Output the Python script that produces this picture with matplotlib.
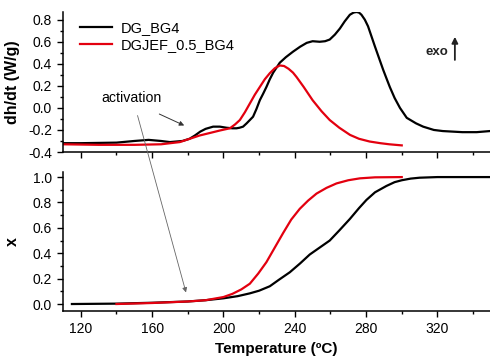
import matplotlib
matplotlib.use("Agg")
import matplotlib.pyplot as plt
from matplotlib.ticker import MultipleLocator

plt.rcParams['font.family'] = ['Liberation Sans', 'DejaVu Sans']

# ---- data ----
t_top_dg = [110, 120, 140, 150, 158, 165, 170, 177, 181, 184, 187, 190, 194.2, 198, 201.7,
            205, 207.3, 209, 211, 213, 216.6, 218.5, 220.4, 222.3, 224.1, 226, 227.9, 231.6,
            235, 239, 243, 246.7, 250, 254, 257, 259.6, 262.5, 265.3, 268, 270.9, 273, 274.6,
            276, 277.4, 279.3, 281.1, 283, 284.9, 287.3, 289.6, 291.5, 293.3, 296, 299, 302.8,
            308, 312, 318, 323, 334, 342, 349.5]
v_top_dg = [-0.32, -0.32, -0.315, -0.30, -0.29, -0.30, -0.31, -0.30, -0.28, -0.25, -0.215,
            -0.19, -0.17, -0.17, -0.18, -0.185, -0.185, -0.18, -0.17, -0.14, -0.08, -0.01, 0.07,
            0.13, 0.19, 0.26, 0.32, 0.41, 0.46, 0.51, 0.555, 0.59, 0.605, 0.60, 0.605, 0.62,
            0.665, 0.72, 0.785, 0.845, 0.865, 0.87, 0.865, 0.845, 0.80, 0.74, 0.65, 0.56, 0.45,
            0.345, 0.265, 0.19, 0.09, 0.0, -0.09, -0.14, -0.17, -0.20, -0.21, -0.22, -0.22, -0.21]

t_top_jef = [110, 130, 150, 165, 175.5, 186.7, 193, 198, 203.6, 206.5, 209.2, 212, 214.8,
             217.6, 220.4, 223.2, 226, 228.8, 231.6, 234, 236.5, 239, 241, 245, 250, 255,
             259.6, 265, 271, 276, 282, 288, 293, 300]
v_top_jef = [-0.33, -0.335, -0.335, -0.33, -0.31, -0.25, -0.225, -0.205, -0.185, -0.15, -0.11,
             -0.04, 0.04, 0.12, 0.19, 0.26, 0.315, 0.36, 0.385, 0.38, 0.355, 0.32, 0.28, 0.19,
             0.07, -0.03, -0.11, -0.18, -0.245, -0.28, -0.305, -0.32, -0.33, -0.34]

t_bot_dg = [115, 140, 160, 180, 190, 200, 208, 214.8, 220, 226, 231, 237.2, 243, 248.4,
            254, 259.6, 265, 270.9, 276, 280.2, 285, 291.4, 296, 300, 305, 310, 320, 335, 349.5]
x_bot_dg = [0.0, 0.003, 0.01, 0.02, 0.03, 0.045, 0.062, 0.084, 0.105, 0.14, 0.19, 0.25, 0.32,
            0.39, 0.445, 0.50, 0.58, 0.67, 0.755, 0.82, 0.88, 0.93, 0.96, 0.975, 0.988, 0.995,
            1.0, 1.0, 1.0]

t_bot_jef = [140, 160, 180, 190, 200, 205, 210, 214.8, 219.5, 224.1, 229, 233.5, 238, 242.8,
             247.5, 252.2, 257.8, 263.4, 270, 276.5, 285, 300]
x_bot_jef = [0.0, 0.008, 0.02, 0.03, 0.055, 0.08, 0.115, 0.16, 0.24, 0.33, 0.45, 0.56, 0.665,
             0.75, 0.815, 0.87, 0.915, 0.95, 0.975, 0.99, 0.998, 1.0]

labels = ['DG_BG4', 'DGJEF_0.5_BG4']
xticks = [120, 160, 200, 240, 280, 320]

# ---- figure ----
fig = plt.figure(figsize=(4.9, 3.61), dpi=100)
ax1 = fig.add_axes([63/490, 1-152/361, 1-63/490, 140/361])
ax2 = fig.add_axes([63/490, 1-311/361, 1-63/490, 139/361])

black = '#000000'
red = '#e3000f'
lw = 1.6

ax1.plot(t_top_dg, v_top_dg, color=black, lw=lw, label=labels[0])
ax1.plot(t_top_jef, v_top_jef, color=red, lw=lw, label=labels[1])
ax2.plot(t_bot_dg, x_bot_dg, color=black, lw=lw)
ax2.plot(t_bot_jef, x_bot_jef, color=red, lw=lw)

for ax in (ax1, ax2):
    ax.set_xlim(110, 349.5)
    ax.set_xticks(xticks)
    ax.xaxis.set_minor_locator(MultipleLocator(20))
    ax.yaxis.set_minor_locator(MultipleLocator(0.1))
    ax.spines['top'].set_visible(False)
    ax.spines['right'].set_visible(False)
    for s in ('left', 'bottom'):
        ax.spines[s].set_linewidth(1.1)
    ax.tick_params(which='major', direction='out', length=4.5, width=1.0, labelsize=10)
    ax.tick_params(which='minor', direction='out', length=2.5, width=1.0)
    ax.patch.set_alpha(0)

ax1.set_ylim(-0.4, 0.87)
ax1.set_yticks([-0.4, -0.2, 0.0, 0.2, 0.4, 0.6, 0.8])
ax1.set_yticklabels(['-0.4', '-0.2', '0.0', '0.2', '0.4', '0.6', '0.8'])
ax1.tick_params(axis='x', labelbottom=False)

ax2.set_ylim(-0.055, 1.04)
ax2.set_yticks([0.0, 0.2, 0.4, 0.6, 0.8, 1.0])
ax2.set_yticklabels(['0.0', '0.2', '0.4', '0.6', '0.8', '1.0'])

ax1.set_ylabel('dh/dt (W/g)', fontsize=11.5, fontweight='bold')
ax2.set_ylabel('x', fontsize=11.5, fontweight='bold')
ax1.yaxis.set_label_coords(-0.1, 0.5)
ax2.yaxis.set_label_coords(-0.1, 0.5)
ax2.set_xlabel('Temperature (ºC)', fontsize=11, fontweight='bold', labelpad=4)

ax1.legend(loc='upper left', bbox_to_anchor=(0.02, 1.0), frameon=False, fontsize=10.5,
           handlelength=2.2, handletextpad=0.6, labelspacing=0.2, borderaxespad=0.2)

# annotations
ax1.text(148.6, 0.09, 'activation', fontsize=10.2, ha='center', va='center')
ax1.annotate('', xy=(179.4, -0.17), xytext=(162.6, -0.045),
             arrowprops=dict(arrowstyle='-|>', color='#333333', lw=0.7, mutation_scale=7))
ax2.annotate('', xy=(179.4, 0.07), xycoords=ax2.transData,
             xytext=(151.4, -0.045), textcoords=ax1.transData,
             arrowprops=dict(arrowstyle='-|>', color='#666666', lw=0.6, mutation_scale=7),
             annotation_clip=False)

ax1.text(326, 0.51, 'exo', fontsize=9.5, fontweight='bold', color='#222222',
         ha='right', va='center')
ax1.annotate('', xy=(329.8, 0.67), xytext=(329.8, 0.41),
             arrowprops=dict(arrowstyle='-|>', color='#222222', lw=1.3, mutation_scale=9))

fig.savefig('out.png', dpi=100)
